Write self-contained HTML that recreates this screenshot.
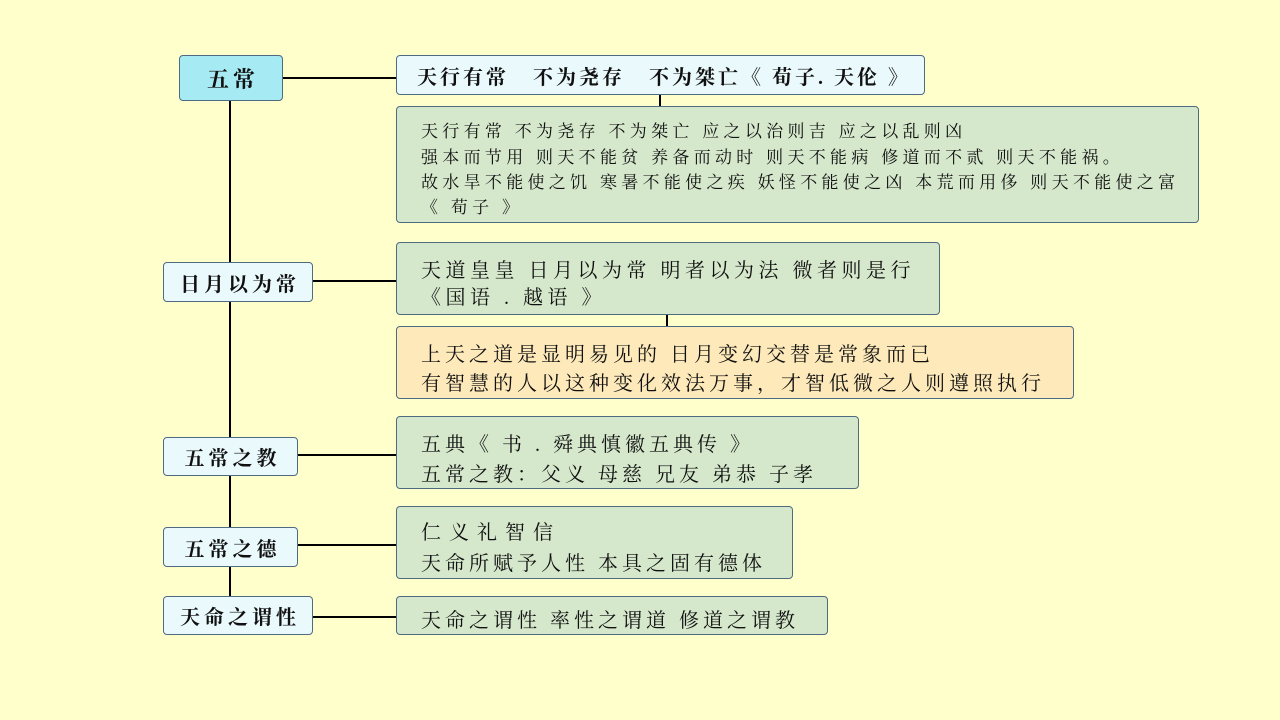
<!DOCTYPE html>
<html><head><meta charset="utf-8"><style>
body{margin:0;width:1280px;height:720px;background:#ffffcc;position:relative;overflow:hidden;font-family:"Liberation Serif","Noto Serif CJK SC","Noto Sans CJK SC",serif;color:#111}
.b{position:absolute;box-sizing:border-box;border:1px solid #4f6b82;border-radius:4px}
.l{position:absolute;background:#000}
.n{background:#eaf9fc;display:flex;align-items:center;justify-content:center;font-weight:bold;font-size:20px;letter-spacing:4px;padding-left:4px;white-space:nowrap}
.g{background:#d5e8cc;font-size:20px;white-space:nowrap;letter-spacing:4px}
.g div{position:absolute;left:24px}
</style></head><body>
<div class="l" style="left:229px;top:100px;width:2px;height:497px"></div>
<div class="l" style="left:282px;top:77px;width:114px;height:2px"></div>
<div class="l" style="left:659px;top:94px;width:2px;height:12px"></div>
<div class="l" style="left:666px;top:314px;width:2px;height:12px"></div>
<div class="l" style="left:312px;top:280px;width:84px;height:2px"></div>
<div class="l" style="left:297px;top:454px;width:99px;height:2px"></div>
<div class="l" style="left:297px;top:544px;width:99px;height:2px"></div>
<div class="l" style="left:312px;top:616px;width:84px;height:2px"></div>

<div class="b n" style="left:179px;top:55px;width:104px;height:46px;background:#a6eaf4;font-size:22px">五常</div>
<div class="b n" style="left:396px;top:55px;width:529px;height:40px;justify-content:flex-start;padding-left:20px;font-size:20px;letter-spacing:3px">天行有常&nbsp;&nbsp; 不为尧存&nbsp;&nbsp; 不为桀亡《 荀子. 天伦 》</div>
<div class="b g" style="left:396px;top:106px;width:803px;height:117px;font-size:17px;letter-spacing:4.3px">
<div style="top:10px">天行有常 不为尧存 不为桀亡 应之以治则吉 应之以乱则凶</div>
<div style="top:36px">强本而节用 则天不能贫 养备而动时 则天不能病 修道而不贰 则天不能祸。</div>
<div style="top:61px">故水旱不能使之饥 寒暑不能使之疾 妖怪不能使之凶 本荒而用侈 则天不能使之富</div>
<div style="top:86px">《 荀子 》</div></div>

<div class="b n" style="left:163px;top:262px;width:150px;height:40px">日月以为常</div>
<div class="b g" style="left:396px;top:242px;width:544px;height:73px;letter-spacing:4.5px">
<div style="top:11px">天道皇皇 日月以为常 明者以为法 微者则是行</div>
<div style="top:38px">《国语 . 越语 》</div></div>
<div class="b g" style="left:396px;top:326px;width:678px;height:73px;background:#fde9ba">
<div style="top:11px">上天之道是显明易见的 日月变幻交替是常象而已</div>
<div style="top:40px">有智慧的人以这种变化效法万事，才智低微之人则遵照执行</div></div>

<div class="b n" style="left:163px;top:437px;width:135px;height:39px">五常之教</div>
<div class="b g" style="left:396px;top:416px;width:463px;height:73px">
<div style="top:11px">五典《 书 . 舜典慎徽五典传 》</div>
<div style="top:41px">五常之教：父义 母慈 兄友 弟恭 子孝</div></div>

<div class="b n" style="left:163px;top:527px;width:135px;height:40px">五常之德</div>
<div class="b g" style="left:396px;top:506px;width:397px;height:73px">
<div style="top:9px;letter-spacing:8px">仁义礼智信</div>
<div style="top:40px">天命所赋予人性 本具之固有德体</div></div>

<div class="b n" style="left:163px;top:596px;width:150px;height:39px">天命之谓性</div>
<div class="b g" style="left:396px;top:596px;width:432px;height:39px">
<div style="top:7px">天命之谓性 率性之谓道 修道之谓教</div></div>
</body></html>
